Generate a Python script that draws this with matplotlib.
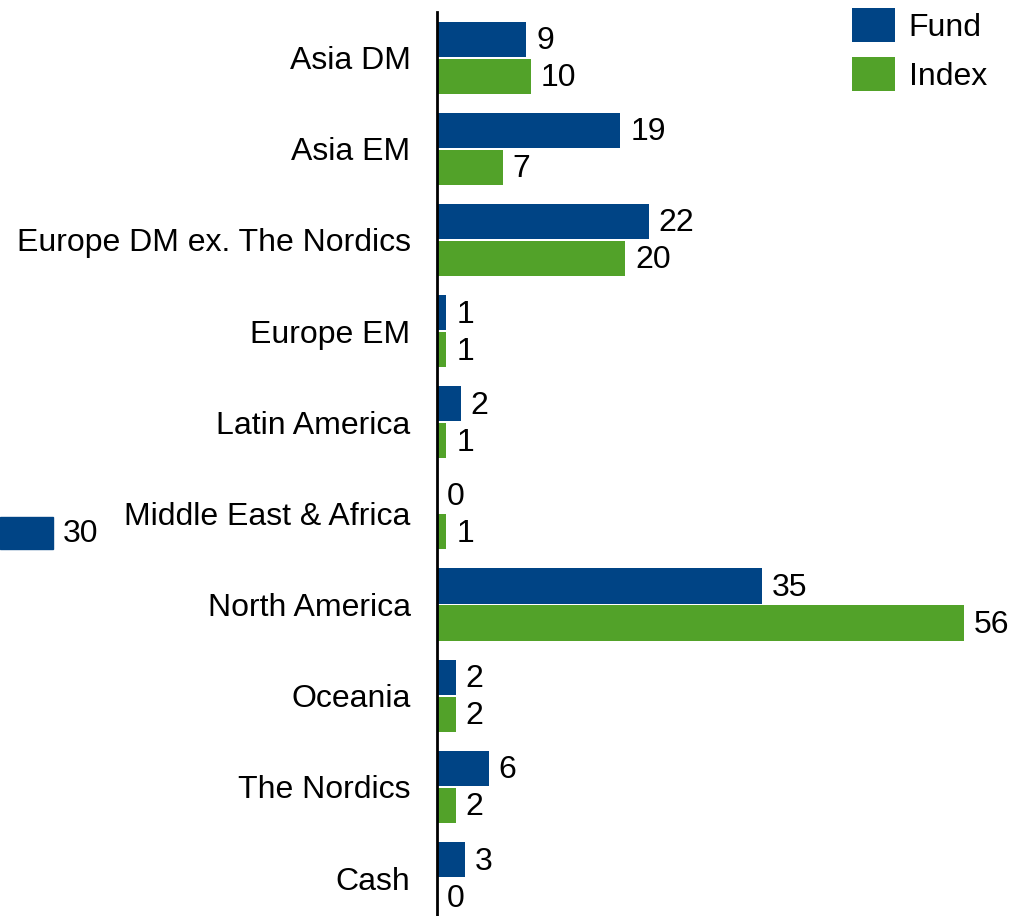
import numpy as np
import matplotlib.pyplot as plt
from matplotlib.patches import Rectangle

plt.rcParams['font.family'] = ['Liberation Sans', 'DejaVu Sans']

categories = ['Asia DM', 'Asia EM', 'Europe DM ex. The Nordics', 'Europe EM',
              'Latin America', 'Middle East & Africa', 'North America',
              'Oceania', 'The Nordics', 'Cash']
fund = [9.5, 19.5, 22.5, 1, 2.5, 0, 34.5, 2, 5.5, 3]
index = [10, 7, 20, 1, 1, 1, 56, 2, 2, 0]
fund_labels = ['9', '19', '22', '1', '2', '0', '35', '2', '6', '3']
index_labels = ['10', '7', '20', '1', '1', '1', '56', '2', '2', '0']
stray_label = '30'

fund_color = '#004485'
index_color = '#52a229'
fs = 23

fig = plt.figure(figsize=(10.26, 9.16), dpi=100)
ax = fig.add_axes([437 / 1026, -7.6 / 916, 589 / 1026, 911.6 / 916])

y = np.arange(len(categories))
h = 0.385
off = 0.203
ax.barh(y - off, fund, height=h, color=fund_color, label='Fund')
ax.barh(y + off, index, height=h, color=index_color, label='Index')

for yi, v, lab in zip(y, fund, fund_labels):
    ax.annotate(lab, (v, yi - off), xytext=(7, -1.5), textcoords='offset points',
                va='center', ha='left', fontsize=fs)
for yi, v, lab in zip(y, index, index_labels):
    ax.annotate(lab, (v, yi + off), xytext=(7, -1.5), textcoords='offset points',
                va='center', ha='left', fontsize=fs)

ax.set_yticks(y)
ax.set_yticklabels(categories, fontsize=fs)
ax.tick_params(axis='y', length=0, pad=19)
ax.set_xticks([])
ax.set_ylim(len(categories) - 0.5, -0.5)
ax.set_xlim(0, 62.6)
for s in ['top', 'right', 'bottom']:
    ax.spines[s].set_visible(False)
ax.spines['left'].set_linewidth(2)

ax.legend(loc='upper left', bbox_to_anchor=(852 / 1026, 1 - 8 / 916),
          bbox_transform=fig.transFigure, frameon=False, borderpad=0,
          borderaxespad=0, fontsize=fs, handlelength=1.35, handleheight=1.25,
          handletextpad=0.42, labelspacing=0.45)

# stray bar at the left edge of the original
fig.patches.append(Rectangle((0, 1 - 549 / 916), 53 / 1026, 32 / 916,
                             transform=fig.transFigure, color=fund_color))
fig.text(63 / 1026, 1 - 534 / 916, stray_label, fontsize=fs, va='center', ha='left')

fig.savefig('out.png', dpi=100)
